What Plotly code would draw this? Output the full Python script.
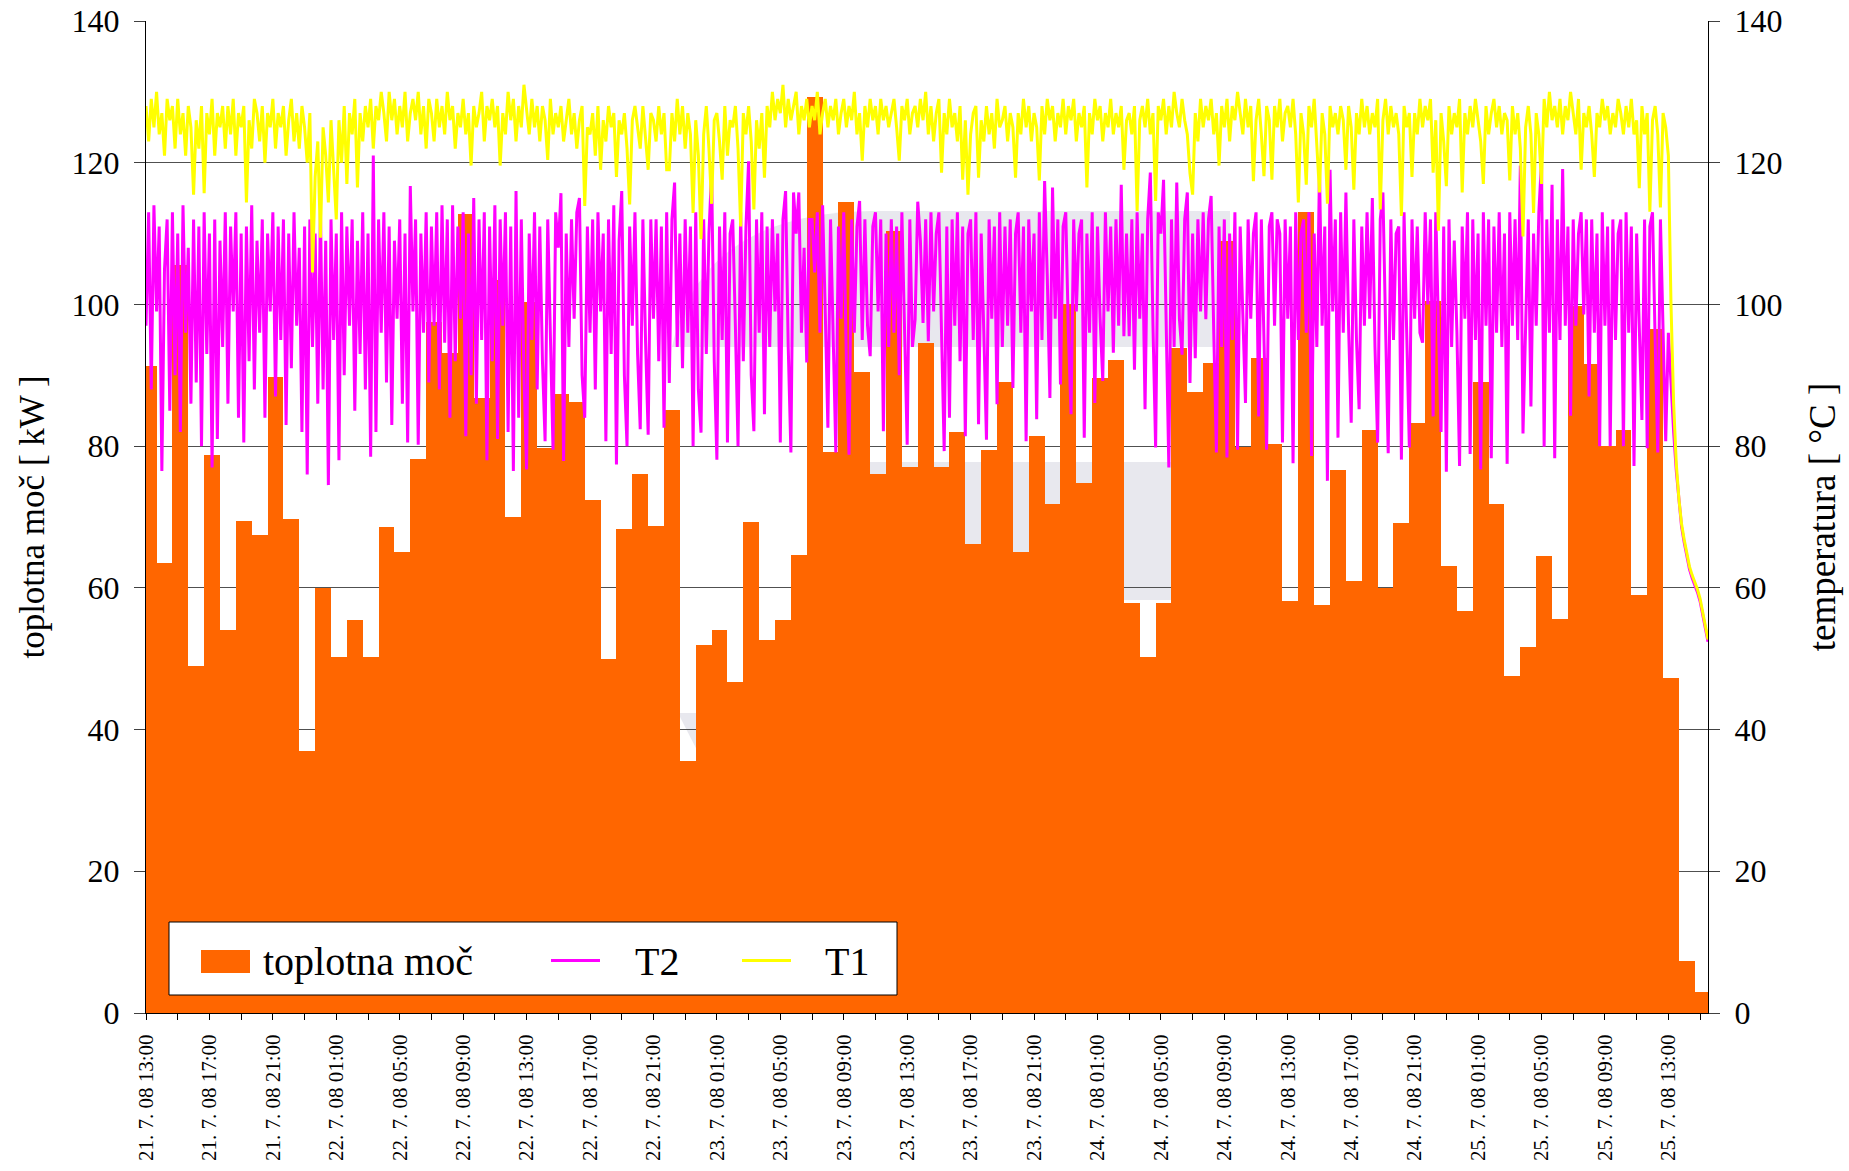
import datetime as dt
import pandas as pd
import plotly.graph_objects as go

# ---------------- data ----------------
# hourly heat power [kW]; bar k centred at 21.7.2008 13:10 + k hours
power_kw = [91.3, 63.5, 105.5, 49, 78.8, 54, 69.5, 67.5, 89.8, 69.7,
            37, 60, 50.3, 55.5, 50.2, 68.6, 65, 78.2, 97.5, 93.2,
            112.7, 86.8, 103.5, 70, 100.3, 79.7, 87.3, 86.2, 72.4, 50,
            68.3, 76, 68.7, 85.1, 35.6, 52, 54, 46.7, 69.3, 52.7,
            55.5, 64.6, 129.3, 79.2, 114.4, 90.5, 76, 110.3, 77, 94.5,
            77, 82, 66.2, 79.5, 89, 65, 81.4, 71.8, 100, 74.8,
            89.6, 92.1, 57.8, 50.3, 57.9, 93.8, 87.7, 91.7, 109, 79.9,
            92.4, 80.3, 58.2, 113, 57.6, 76.6, 61, 82.3, 60, 69.2,
            83.2, 100.5, 63.1, 56.8, 89, 71.8, 47.6, 51.6, 64.5, 55.6,
            99.8, 91.6, 80, 82.3, 59, 96.6, 47.3, 7.3, 3]
bar_start = "2008-07-21 13:10"

# temperatures [°C], 10-minute samples from 21.7.2008 13:00
line_start = "2008-07-21 13:00"
T2 = [
    97, 113, 88, 114, 99, 111,
    76.5, 105, 112, 85, 113, 90,
    110, 82, 114, 96, 108, 86,
    112, 89, 111, 80, 113, 93,
    110, 77, 112, 81, 109, 94,
    113, 86, 111, 99, 113, 84,
    110, 80.5, 111, 92, 114, 88,
    109, 96, 112, 84, 110, 99,
    113, 87, 111, 95, 112, 83,
    110, 91, 113, 97, 108, 82,
    111, 76, 112, 94, 110, 86,
    113, 88, 109, 74.5, 112, 95,
    110, 78, 113, 90, 111, 97,
    112, 85, 109, 93, 113, 88,
    110, 78.5, 121, 82, 112, 96,
    113, 89, 111, 83, 109, 98,
    112, 86, 110, 80.5, 116.7, 99,
    112, 80.2, 110, 96, 113, 89,
    111, 97, 113, 88, 114, 94.6,
    112, 84, 114, 92, 111, 98,
    113, 81.4, 110, 90, 115, 86,
    112, 95, 113, 78, 111, 92,
    114, 81, 112, 97, 113, 82,
    111, 76.5, 116, 84, 112, 90,
    76.7, 110, 95, 113, 88, 111,
    92, 80.7, 112, 96, 79.5, 113,
    108, 115.7, 77.9, 110, 94, 112,
    98, 113, 115, 90, 84, 111,
    96, 112, 88, 113, 99, 110,
    80.7, 112, 93, 114, 77.4, 109,
    116, 90, 80, 111, 97, 113,
    93, 82.4, 112, 95, 81.6, 112,
    98, 112, 92, 111, 82.6, 113,
    88.9, 112, 117.2, 94, 110, 91,
    112, 96, 111, 80, 113, 88,
    81.9, 112, 93, 110, 118.8, 92,
    78.1, 111, 95, 113, 80.5, 110,
    112, 97, 80, 113, 92, 111,
    120.2, 90, 82.1, 112, 96, 113,
    84.5, 111, 94, 112, 99, 110,
    80.5, 112, 116, 94, 79.1, 115.8,
    110, 115.8, 96, 108, 91.8, 112,
    112, 104.5, 113, 96, 114, 99,
    82.6, 112, 95, 79.1, 111, 98,
    113, 92, 78.8, 112, 96, 111,
    114.6, 95, 112, 97, 92.7, 111,
    113, 99, 112, 82.1, 110, 94,
    112, 96, 111, 90, 113, 98,
    80.2, 112, 94, 97.9, 114.5, 109,
    97.4, 112, 94.8, 113, 99, 110,
    113, 96, 79.3, 111, 84, 112,
    97, 113, 92, 111, 81.4, 110,
    112, 95, 113, 83.1, 110, 96,
    80.9, 112, 98, 111, 85.9, 113,
    94, 111, 97, 112, 88.2, 110,
    113, 96, 111, 80.7, 112, 99,
    110, 83.8, 113, 95, 117.4, 104,
    86.8, 116.5, 98, 112, 88.7, 111,
    113, 96, 84.5, 112, 99, 110,
    112, 81.2, 110, 96, 113, 86.1,
    111, 98, 89.2, 113, 99, 111,
    93.2, 112, 97, 116.9, 95.5, 110,
    95.5, 112, 90.8, 113, 98, 110,
    85.2, 112, 118.6, 97, 79.8, 113,
    110, 117.6, 96, 77, 112, 94,
    117.2, 98, 92.9, 112, 115.8, 88.9,
    110, 92.4, 112, 99, 113, 97.9,
    112, 115.3, 96, 79.1, 111, 94,
    112, 78.4, 110, 95, 113, 79.5,
    111, 97, 86.1, 112, 98, 110,
    113, 84.2, 112, 95, 79.5, 111,
    113, 97, 112, 110, 80.5, 112,
    98, 111, 77.6, 113, 95, 110,
    112, 96, 113, 78.6, 110, 94,
    118.8, 97, 111, 75.1, 119, 99,
    112, 81.2, 113, 96, 115.8, 97,
    83.3, 112, 95, 85.2, 111, 97,
    113, 98, 115, 94, 80.5, 112,
    115.8, 97, 79, 112, 95, 110,
    111, 78.1, 113, 96, 79.8, 112,
    98, 111, 96, 94.6, 113, 100,
    112, 84.2, 113, 97, 82, 111,
    76.4, 112, 94, 109, 96, 77.2,
    111, 98, 113, 78.9, 112, 95,
    110, 76.7, 113, 97, 112, 78.3,
    111, 96, 113, 94, 110, 77.5,
    113, 97, 112, 95, 119.6, 81.8,
    98.3, 112, 85.6, 110, 97, 113,
    120.2, 79.9, 112, 96, 116.9, 78.3,
    112, 95, 119.1, 97, 111, 84.3,
    112, 97, 110, 113, 98.6, 112,
    87, 112, 96, 110, 80, 113,
    97, 111, 80, 112, 95, 110,
    112, 80, 113, 96, 111, 77.2,
    110, 97, 83.7, 112, 79.7, 111,
    113, 95, 79.1, 112, 97, 80.7,
    96, 88, 82, 76.5, 72, 68.6, 66.4, 64.4, 62.6, 61.4, 60.4, 59.4,
    58.1, 56.1, 54.1, 52.4]

T1 = [
    128, 123, 129, 125, 130, 124,
    127, 121, 129, 126, 128, 122,
    129, 124, 127, 121, 128, 125,
    115.5, 126, 122, 128, 115.7, 127,
    124, 129, 121, 127, 125, 128,
    122, 128, 124, 129, 121, 127,
    125, 128, 114.4, 126, 122, 129,
    127, 123, 128, 120, 127, 125,
    129, 122, 127, 125, 128, 121,
    126, 129, 123, 127, 122, 128,
    125, 120, 127, 104.5, 118, 123,
    109.4, 125, 121, 114.4, 126, 119,
    112, 126, 120, 128, 117, 127,
    124, 129, 116.5, 127, 123, 128,
    125, 129, 122, 128, 126, 130,
    127, 123, 130, 126, 129, 124,
    128, 125, 130, 123, 127, 129,
    126, 130, 124, 128, 122, 129,
    127, 123, 129, 125, 128, 124,
    130, 126, 128, 122, 127, 125,
    129, 124, 127, 119.6, 128, 125,
    127, 130, 123, 128, 126, 129,
    125, 128, 119.6, 127, 124, 130,
    126, 129, 123, 128, 125, 131,
    127, 124, 129, 125, 128, 123,
    128, 126, 120.4, 129, 124, 127,
    125, 128, 123, 126, 129, 124,
    127, 122, 126, 128, 113.9, 125,
    124, 127, 121, 128, 119, 126,
    123, 128, 125, 127, 118, 126,
    124, 127, 122, 114.1, 126, 128,
    125, 122, 128, 124, 119, 127,
    126, 123, 128, 124, 127, 119,
    119, 127, 123, 129, 124, 128,
    122, 127, 124, 112.9, 126, 121,
    109.2, 124, 128, 122, 114.2, 126,
    127, 123, 117.6, 128, 121, 126,
    125, 128, 122, 111, 127, 124,
    128, 123, 113.4, 126, 122, 127,
    117.9, 128, 125, 130, 126, 129,
    127, 131, 125, 129, 126, 128,
    130, 124, 128, 126, 129, 125,
    128, 126, 130, 124, 127, 129,
    125, 128, 126, 129, 124, 127,
    129, 125, 128, 126, 130, 124,
    127, 120.3, 128, 125, 129, 126,
    128, 124, 129, 126, 128, 125,
    127, 129, 125, 120.3, 128, 126,
    129, 124, 127, 128, 125, 129,
    126, 130, 124, 128, 123, 127,
    129, 118.6, 127, 124, 129, 125,
    127, 123, 128, 117.6, 126, 115.5,
    124, 127, 128, 117.9, 126, 123,
    128, 124, 127, 122, 129, 125,
    126, 128, 123, 127, 125, 117.9,
    127, 124, 129, 125, 128, 123,
    127, 125, 117.5, 128, 124, 129,
    126, 128, 123, 127, 125, 129,
    124, 128, 126, 129, 123, 127,
    125, 128, 116.5, 127, 124, 129,
    126, 128, 123, 127, 125, 129,
    124, 127, 125, 128, 119, 126,
    127, 124, 128, 113.2, 126, 128,
    125, 129, 124, 127, 114.6, 128,
    126, 129, 124, 128, 125, 130,
    127, 125, 129, 126, 124, 118.5,
    115.5, 127, 123, 129, 125, 128,
    126, 129, 124, 127, 119.6, 128,
    125, 129, 123, 128, 126, 130,
    127, 124, 129, 125, 128, 117.4,
    126, 129, 124, 118.1, 128, 126,
    117.6, 128, 125, 129, 123, 127,
    128, 125, 129, 124, 114.4, 127,
    124, 116.9, 128, 125, 129, 123,
    115.8, 127, 124, 114.2, 128, 125,
    127, 124, 128, 126, 119, 128,
    125, 116.2, 127, 124, 129, 125,
    128, 124, 127, 125, 129, 113.4,
    126, 129, 124, 128, 125, 127,
    124, 112.5, 128, 125, 127, 118,
    127, 124, 129, 125, 128, 126,
    129, 118.6, 126, 110.4, 127, 123,
    116.7, 128, 124, 127, 125, 129,
    115.8, 127, 124, 128, 125, 129,
    126, 123, 117, 128, 124, 127,
    129, 125, 128, 124, 127, 126,
    117.5, 128, 124, 127, 122, 109.6,
    125, 128, 124, 112.9, 127, 124,
    117, 129, 125, 130, 126, 128,
    125, 129, 124, 128, 126, 130,
    127, 124, 129, 119, 127, 125,
    128, 124, 118, 127, 125, 129,
    126, 128, 124, 127, 125, 129,
    127, 124, 128, 125, 129, 124,
    126, 116.4, 128, 124, 127, 113.1,
    126, 128, 124, 113.7, 127, 125,
    121, 100, 86, 77.5, 72.5, 69, 66.8, 64.8, 63, 61.8, 60.8, 59.8,
    58.5, 56.5, 54.5, 52.7]

tick_labels = [
    "21. 7. 08 13:00", "21. 7. 08 17:00", "21. 7. 08 21:00",
    "22. 7. 08 01:00", "22. 7. 08 05:00", "22. 7. 08 09:00",
    "22. 7. 08 13:00", "22. 7. 08 17:00", "22. 7. 08 21:00",
    "23. 7. 08 01:00", "23. 7. 08 05:00", "23. 7. 08 09:00",
    "23. 7. 08 13:00", "23. 7. 08 17:00", "23. 7. 08 21:00",
    "24. 7. 08 01:00", "24. 7. 08 05:00", "24. 7. 08 09:00",
    "24. 7. 08 13:00", "24. 7. 08 17:00", "24. 7. 08 21:00",
    "25. 7. 08 01:00", "25. 7. 08 05:00", "25. 7. 08 09:00",
    "25. 7. 08 13:00"]
x_range = ["2008-07-21 13:00", "2008-07-25 15:30"]

# ---------------- figure ----------------
FONT = "Liberation Serif, Times New Roman, serif"
ORANGE = "#FF6600"
MAGENTA = "#FF00FF"
YELLOW = "#FFFF00"

bar_x = pd.date_range(bar_start, periods=len(power_kw), freq="h")
t2_x = pd.date_range(line_start, periods=len(T2), freq="10min")
t1_x = pd.date_range(line_start, periods=len(T1), freq="10min")
tick_vals = [dt.datetime.strptime(s, "%d. %m. %y %H:%M") for s in tick_labels]

fig = go.Figure()
fig.add_trace(go.Bar(x=bar_x, y=power_kw, width=3600000, name="toplotna moč",
                     marker=dict(color=ORANGE, line=dict(width=0)),
                     yaxis="y", showlegend=False))
fig.add_trace(go.Scatter(x=t2_x, y=T2, mode="lines", name="T2",
                         line=dict(color=MAGENTA, width=3), yaxis="y2",
                         showlegend=False))
fig.add_trace(go.Scatter(x=t1_x, y=T1, mode="lines", name="T1",
                         line=dict(color=YELLOW, width=3), yaxis="y2",
                         showlegend=False))

W, H = 1849, 1171
L, R, T, B = 146, 141, 21, 158
PW, PH = W - L - R, H - T - B


def px(x):
    return (x - L) / PW


def py(y):
    return (H - B - y) / PH


shapes = []
# faint background watermark
WM = "#e8e8ee"
shapes.append(dict(type="path", xref="paper", yref="paper", layer="below",
                   path=f"M {px(672)},{py(347)} Q {px(700)},{py(213)} {px(872)},{py(211)} "
                        f"L {px(1230)},{py(211)} L {px(1230)},{py(347)} Z",
                   fillcolor=WM, line=dict(width=0)))
shapes.append(dict(type="rect", xref="paper", yref="paper", layer="below",
                   x0=px(868), x1=px(1195), y0=py(600), y1=py(462),
                   fillcolor=WM, line=dict(width=0)))
shapes.append(dict(type="path", xref="paper", yref="paper", layer="below",
                   path=f"M {px(678)},{py(713)} L {px(702)},{py(713)} L {px(702)},{py(760)} Z",
                   fillcolor=WM, line=dict(width=0)))
# legend box (drawn manually)
shapes.append(dict(type="rect", xref="paper", yref="paper", layer="above",
                   x0=px(169), x1=px(897), y0=py(995), y1=py(922),
                   fillcolor="white", line=dict(color="black", width=1)))
shapes.append(dict(type="rect", xref="paper", yref="paper", layer="above",
                   x0=px(201), x1=px(250), y0=py(973), y1=py(950),
                   fillcolor=ORANGE, line=dict(width=0)))
shapes.append(dict(type="line", xref="paper", yref="paper", layer="above",
                   x0=px(551), x1=px(600), y0=py(960.5), y1=py(960.5),
                   line=dict(color=MAGENTA, width=3)))
shapes.append(dict(type="line", xref="paper", yref="paper", layer="above",
                   x0=px(742), x1=px(791), y0=py(960.5), y1=py(960.5),
                   line=dict(color=YELLOW, width=3)))

annotations = []
for label, xpos in (("toplotna moč", 261), ("T2", 633), ("T1", 823)):
    annotations.append(dict(text=label, xref="paper", yref="paper",
                            x=px(xpos), y=py(961), xanchor="left", yanchor="middle",
                            showarrow=False, font=dict(family=FONT, size=40, color="black")))

fig.update_layout(
    width=W, height=H,
    margin=dict(l=L, r=R, t=T, b=B, autoexpand=False),
    paper_bgcolor="white", plot_bgcolor="rgba(0,0,0,0)",
    font=dict(family=FONT, color="black"),
    bargap=0, showlegend=False,
    shapes=shapes, annotations=annotations,
    xaxis=dict(type="date", range=x_range, tickmode="array",
               tickvals=tick_vals, ticktext=tick_labels, tickangle=-90,
               tickfont=dict(family=FONT, size=21, color="black"),
               ticks="outside", ticklen=6, tickcolor="black", ticklabelstandoff=6,
               minor=dict(ticks="outside", ticklen=6, tickcolor="black",
                          dtick=7200000, tick0="2008-07-21 13:00", showgrid=False),
               showgrid=False, zeroline=False, showline=True,
               linecolor="black", linewidth=1, automargin=False),
    yaxis=dict(range=[0, 140], dtick=20, tick0=0,
               tickfont=dict(family=FONT, size=32, color="black"),
               ticks="outside", ticklen=11, tickcolor="#404040", ticklabelstandoff=8,
               showgrid=True, gridcolor="#505050", gridwidth=1,
               zeroline=False, showline=True, linecolor="black", linewidth=1,
               title=dict(text="toplotna moč [ kW ]", standoff=16,
                          font=dict(family=FONT, size=35, color="black")),
               automargin=False),
    yaxis2=dict(range=[0, 140], dtick=20, tick0=0, overlaying="y", side="right",
                tickfont=dict(family=FONT, size=32, color="black"),
                ticks="outside", ticklen=11, tickcolor="#404040", ticklabelstandoff=8,
                showgrid=False, zeroline=False, showline=True,
                linecolor="black", linewidth=1,
                title=dict(text="temperatura [ °C ]", standoff=27,
                           font=dict(family=FONT, size=37, color="black")),
                automargin=False),
)

fig.write_html("out.html")
